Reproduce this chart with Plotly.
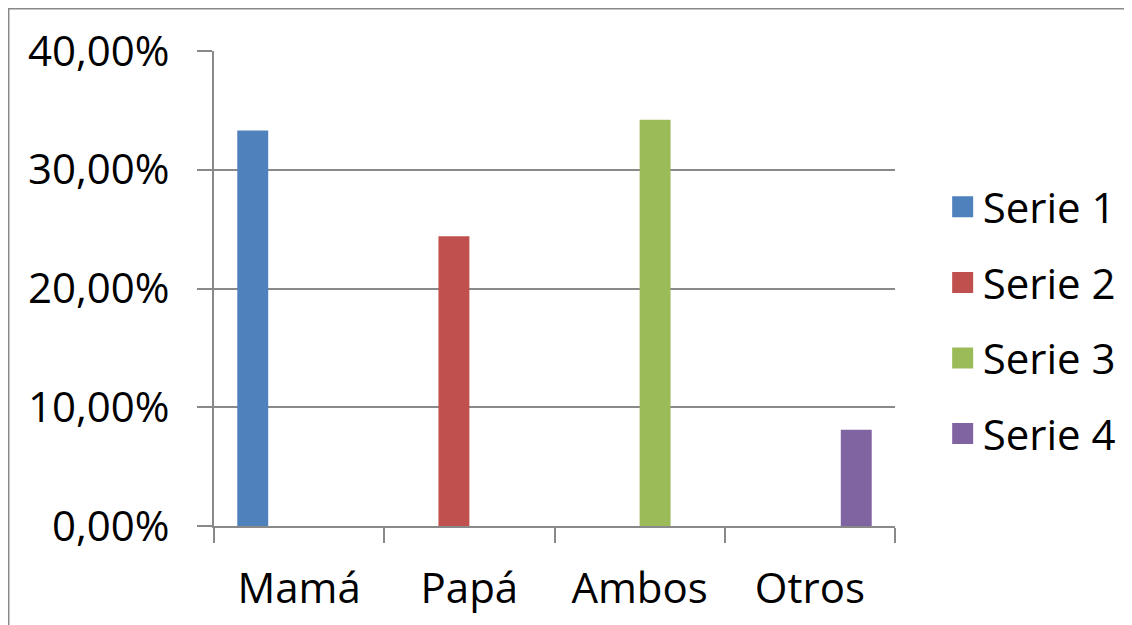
import plotly.graph_objects as go

# Datos
categorias = ["Mamá", "Papá", "Ambos", "Otros"]
series = ["Serie 1", "Serie 2", "Serie 3", "Serie 4"]
serie_1 = [0.333, None, None, None]
serie_2 = [None, 0.244, None, None]
serie_3 = [None, None, 0.342, None]
serie_4 = [None, None, None, 0.081]
valores = [serie_1, serie_2, serie_3, serie_4]
y_ticks = [0, 0.1, 0.2, 0.3, 0.4]

colores = ["#4F81BD", "#C0504D", "#9BBB59", "#8064A2"]
gris = "#898989"
fuente = "Open Sans, Noto Sans, sans-serif"

fig = go.Figure()

for nombre, vals, color in zip(series, valores, colores):
    fig.add_trace(go.Bar(x=categorias, y=vals, name=nombre,
                         marker=dict(color=color, line=dict(width=0)),
                         showlegend=False))

# entradas de leyenda con cuadros más grandes
for i, (nombre, color) in enumerate(zip(series, colores)):
    fig.add_trace(go.Scatter(x=[None], y=[None], mode="markers", name=nombre,
                             legendgroup=str(i),
                             marker=dict(symbol="square", size=16, color=color,
                                         line=dict(width=5, color=color))))

# la página deja 8px de margen alrededor de la figura
fig.update_layout(
    width=1132, height=625,
    margin=dict(l=206, r=245, t=43, b=107),
    paper_bgcolor="white", plot_bgcolor="white",
    barmode="group", bargap=0.2735, bargroupgap=0,
    separators=",.",
    font=dict(family=fuente, size=42, color="black"),
    legend=dict(x=1.07, xanchor="left", y=0.4326, yanchor="middle",
                tracegroupgap=18, traceorder="grouped",
                font=dict(size=42), itemwidth=30),
    xaxis=dict(showgrid=False, showline=True, linecolor=gris, linewidth=2,
               ticks="outside", tickson="boundaries", ticklen=15,
               tickcolor=gris, tickwidth=2, ticklabelstandoff=25,
               range=[-0.5, 3.5], fixedrange=True),
    yaxis=dict(range=[0, 0.4], tickvals=y_ticks, tickformat=".2%",
               showgrid=True, gridcolor=gris, gridwidth=2,
               showline=True, linecolor=gris, linewidth=2,
               ticks="outside", ticklen=15, tickcolor=gris, tickwidth=2,
               ticklabelstandoff=19, zeroline=False, fixedrange=True),
    shapes=[dict(type="rect", xref="paper", yref="paper",
                 x0=-0.3018, x1=1.5, y0=-0.4, y1=1.0895,
                 line=dict(color=gris, width=2), fillcolor="rgba(0,0,0,0)",
                 layer="below")],
)

fig.write_html("out.html")
